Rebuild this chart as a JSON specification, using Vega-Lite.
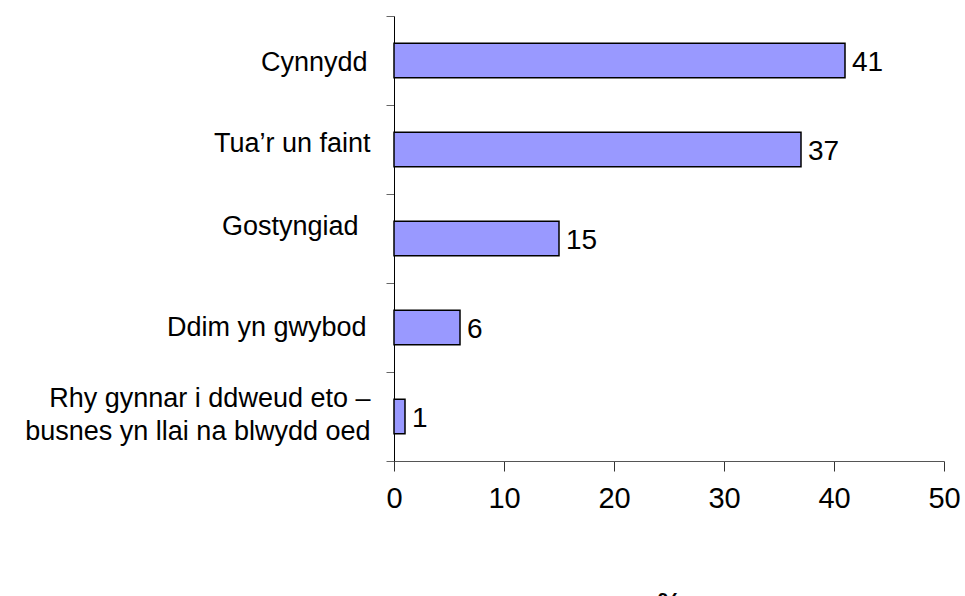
{
  "$schema": "https://vega.github.io/schema/vega-lite/v6.json",
  "width": 550,
  "height": 445,
  "autosize": "none",
  "padding": {"left": 394, "top": 16, "right": 21, "bottom": 135},
  "background": "white",
  "config": {"view": {"stroke": null}, "font": "Liberation Sans"},
  "data": {
    "values": [
      {"category": "Cynnydd", "value": 41},
      {"category": "Tua’r un faint", "value": 37},
      {"category": "Gostyngiad", "value": 15},
      {"category": "Ddim yn gwybod", "value": 6},
      {"category": "Rhy gynnar i ddweud eto –|busnes yn llai na blwydd oed", "value": 1}
    ]
  },
  "encoding": {
    "y": {
      "field": "category",
      "type": "nominal",
      "sort": null,
      "scale": {"paddingInner": 0, "paddingOuter": 0},
      "axis": {
        "title": null,
        "tickBand": "extent",
        "labelFontSize": 27,
        "labelColor": "black",
        "labelPadding": {
          "condition": [
            {"test": "datum.value == 'Gostyngiad'", "value": 28},
            {"test": "datum.value == 'Cynnydd'", "value": 19},
            {"test": "datum.value == 'Ddim yn gwybod'", "value": 20}
          ],
          "value": 16
        },
        "labelOffset": {
          "condition": [
            {"test": "datum.value == 'Gostyngiad'", "value": -12},
            {"test": "datum.value == 'Tua’r un faint'", "value": -6},
            {"test": "datum.value == 'Cynnydd'", "value": 2},
            {"test": "datum.value == 'Rhy gynnar i ddweud eto –|busnes yn llai na blwydd oed'", "value": -18}
          ],
          "value": 0
        },
        "tickSize": 8,
        "tickColor": "#666666",
        "domainColor": "black",
        "labelExpr": "split(datum.label, '|')",
        "labelLimit": 400,
        "labelLineHeight": 33
      }
    }
  },
  "layer": [
    {
      "mark": {"type": "bar", "fill": "#9999FF", "stroke": "black", "strokeWidth": 1.5, "height": {"band": 0.39}},
      "encoding": {
        "x": {
          "field": "value",
          "type": "quantitative",
          "scale": {"domain": [0, 50]},
          "axis": {
            "values": [0, 10, 20, 30, 40, 50],
            "grid": false,
            "tickSize": 10,
            "tickColor": "#333333",
            "domainColor": "#555555",
            "labelFontSize": 29,
            "labelColor": "black",
            "labelPadding": 13,
            "labelFlush": false,
            "labelOverlap": false,
            "title": "%",
            "titleFontSize": 27,
            "titleFontWeight": "bold",
            "titleColor": "black",
            "titlePadding": 77
          }
        }
      }
    },
    {
      "mark": {"type": "text", "align": "left", "baseline": "middle", "dx": 7, "dy": 2, "fontSize": 28, "color": "black"},
      "encoding": {
        "x": {"field": "value", "type": "quantitative"},
        "text": {"field": "value", "type": "quantitative"}
      }
    }
  ]
}
